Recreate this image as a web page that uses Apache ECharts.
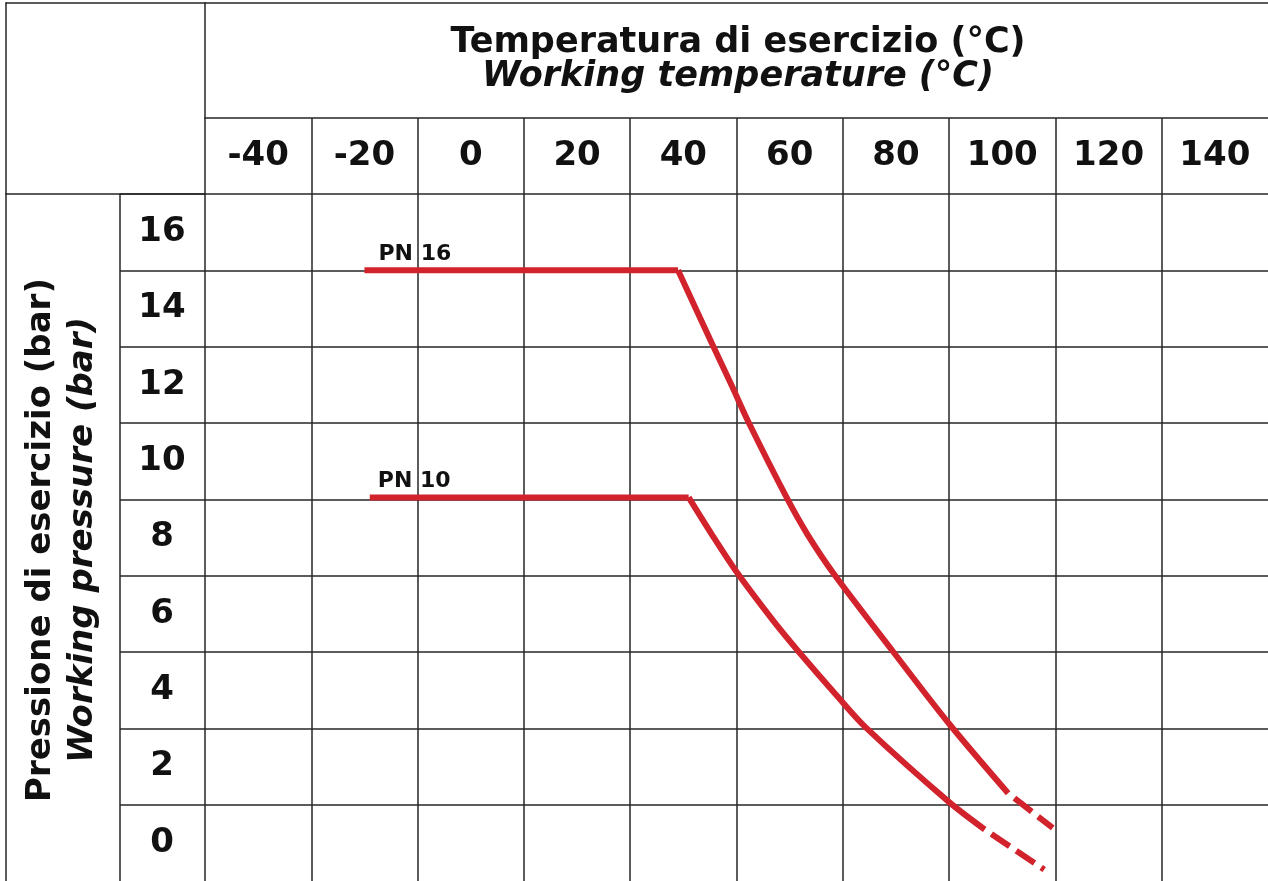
<!DOCTYPE html>
<html>
<head>
<meta charset="utf-8">
<script src="https://cdn.jsdelivr.net/npm/echarts@6/dist/echarts.min.js"></script>
<style>
  html, body { margin: 0; padding: 0; background: #fff; }
  #main { width: 1268px; height: 881px; }
</style>
</head>
<body>
<div id="main"></div>
<script>
// tick labels (cells of the table)
const tempLabels = ['-40', '-20', '0', '20', '40', '60', '80', '100', '120', '140'];
const pressLabels = ['0', '2', '4', '6', '8', '10', '12', '14', '16'];

// curves: [temperature °C, pressure bar]
const pn16Flat = [[-20, 15], [39, 15]];
const pn16Curve = [[39, 15], [45.6, 13.02], [49.1, 11.98], [52.2, 11.04], [59.5, 9.03], [63.4, 8.07],
  [68.3, 7.05], [79.3, 5.04], [90, 3.12], [101.1, 1.3]];
const pn16Dash = [[101.1, 1.3], [109.5, 0.39]];
const pn10Flat = [[-19, 9.05], [41, 9.05]];
const pn10Curve = [[41, 9.05], [45.4, 8.07], [50.1, 7.08], [56.9, 5.82], [61.5, 5.04], [69.1, 3.82],
  [74.2, 3.04], [89.9, 1.08], [96.7, 0.35]];
const pn10Dash = [[96.7, 0.35], [107.9, -0.7]];

const FONT = 'DejaVu Sans';
const lineColor = '#262626';
const lineW = 1.5;
const red = '#d2232d';

const chart = echarts.init(document.getElementById('main'));

const hidden = { show: false };
const edge = { show: true, onZero: false, lineStyle: { color: lineColor, width: lineW } };
// axis used only to draw one border line of a table cell
function edgeAxis(type, gridIndex, position) {
  return {
    type: type, gridIndex: gridIndex, position: position, min: 0, max: 1,
    axisLine: edge, axisTick: hidden, axisLabel: hidden, splitLine: hidden
  };
}
function hiddenAxis(type, gridIndex) {
  return { type: type, gridIndex: gridIndex, show: false };
}
function withLabel(data, text, offset) {
  return data.map((p, i) => i === 0 ? {
    value: p,
    label: {
      show: true, formatter: text, position: 'top', align: 'left', distance: 5,
      offset: offset, fontFamily: FONT, fontWeight: 'bold', fontSize: 22, color: '#111'
    }
  } : p);
}
function curve(data, kind) {
  return {
    type: 'line', xAxisIndex: 0, yAxisIndex: 0, data: data,
    symbol: 'circle', symbolSize: 0, showSymbol: kind === 'flat', silent: true,
    smooth: kind === 'curve' ? 0.3 : false,
    lineStyle: {
      color: red, width: 6, cap: 'butt', join: 'miter',
      type: kind === 'dash' ? [22, 8] : 'solid', dashOffset: kind === 'dash' ? 22 : 0
    },
    itemStyle: { color: red },
    z: 5
  };
}
const gridSplit = { show: true, lineStyle: { color: lineColor, width: lineW } };

chart.setOption({
  animation: false,
  backgroundColor: '#fff',
  grid: [
    { left: 205, top: 194, width: 1066, height: 691 },  // 0 plot
    { left: 205, top: 118, width: 1066, height: 76 },   // 1 temperature ticks
    { left: 120, top: 194, width: 85, height: 691 },    // 2 pressure ticks
    { left: 205, top: 3, width: 1066, height: 115 },    // 3 x title cell
    { left: 6, top: 3, width: 199, height: 191 },       // 4 corner
    { left: 6, top: 194, width: 114, height: 691 }      // 5 y title cell
  ],
  xAxis: [
    {
      type: 'value', gridIndex: 0, min: -50, max: 150, interval: 20,
      axisLabel: hidden, axisTick: hidden, axisLine: hidden,
      splitLine: Object.assign({ showMinLine: true, showMaxLine: false }, gridSplit)
    },
    {
      type: 'category', gridIndex: 1, data: tempLabels, boundaryGap: true, position: 'bottom',
      axisLine: hidden, axisTick: hidden,
      splitLine: Object.assign({ interval: 0, showMinLine: true, showMaxLine: false }, gridSplit),
      axisLabel: {
        inside: true, margin: 38, interval: 0, verticalAlign: 'middle',
        fontFamily: FONT, fontWeight: 'bold', fontSize: 34, color: '#111'
      }
    },
    hiddenAxis('value', 2),
    edgeAxis('value', 3, 'top'),
    edgeAxis('value', 3, 'bottom'),
    edgeAxis('value', 4, 'top'),
    edgeAxis('value', 4, 'bottom'),
    hiddenAxis('value', 5)
  ],
  yAxis: [
    {
      type: 'value', gridIndex: 0, min: -1, max: 17, interval: 2,
      axisLabel: hidden, axisTick: hidden, axisLine: hidden,
      splitLine: Object.assign({ showMinLine: false, showMaxLine: true }, gridSplit)
    },
    hiddenAxis('value', 1),
    {
      type: 'category', gridIndex: 2, data: pressLabels, boundaryGap: true, position: 'left',
      axisLine: edge, axisTick: hidden,
      splitLine: Object.assign({ interval: 0, showMinLine: false, showMaxLine: true }, gridSplit),
      axisLabel: {
        inside: true, margin: 42, interval: 0, align: 'center',
        fontFamily: FONT, fontWeight: 'bold', fontSize: 34, color: '#111'
      }
    },
    edgeAxis('value', 3, 'left'),
    edgeAxis('value', 4, 'left'),
    edgeAxis('value', 5, 'left')
  ],
  graphic: [
    {
      type: 'text', x: 738, y: 60, silent: true,
      style: {
        text: 'Temperatura di esercizio (°C)\n{i|Working temperature (°C)}',
        align: 'center', verticalAlign: 'middle',
        fontFamily: FONT, fontWeight: 'bold', fontSize: 35, lineHeight: 34, fill: '#111',
        rich: { i: { fontFamily: FONT, fontWeight: 'bold', fontStyle: 'italic', fontSize: 35, lineHeight: 34, fill: '#111' } }
      }
    },
    {
      type: 'text', x: 62, y: 540, rotation: Math.PI / 2, silent: true,
      style: {
        text: 'Pressione di esercizio (bar)\n{i|Working pressure (bar)}',
        align: 'center', verticalAlign: 'middle',
        fontFamily: FONT, fontWeight: 'bold', fontSize: 34, lineHeight: 42, fill: '#111',
        rich: { i: { fontFamily: FONT, fontWeight: 'bold', fontStyle: 'italic', fontSize: 34, lineHeight: 42, fill: '#111' } }
      }
    }
  ],
  series: [
    curve(withLabel(pn16Flat, 'PN 16', [14, 0]), 'flat'),
    curve(pn16Curve, 'curve'),
    curve(pn16Dash, 'dash'),
    curve(withLabel(pn10Flat, 'PN 10', [8, 0]), 'flat'),
    curve(pn10Curve, 'curve'),
    curve(pn10Dash, 'dash')
  ]
});
</script>
</body>
</html>
